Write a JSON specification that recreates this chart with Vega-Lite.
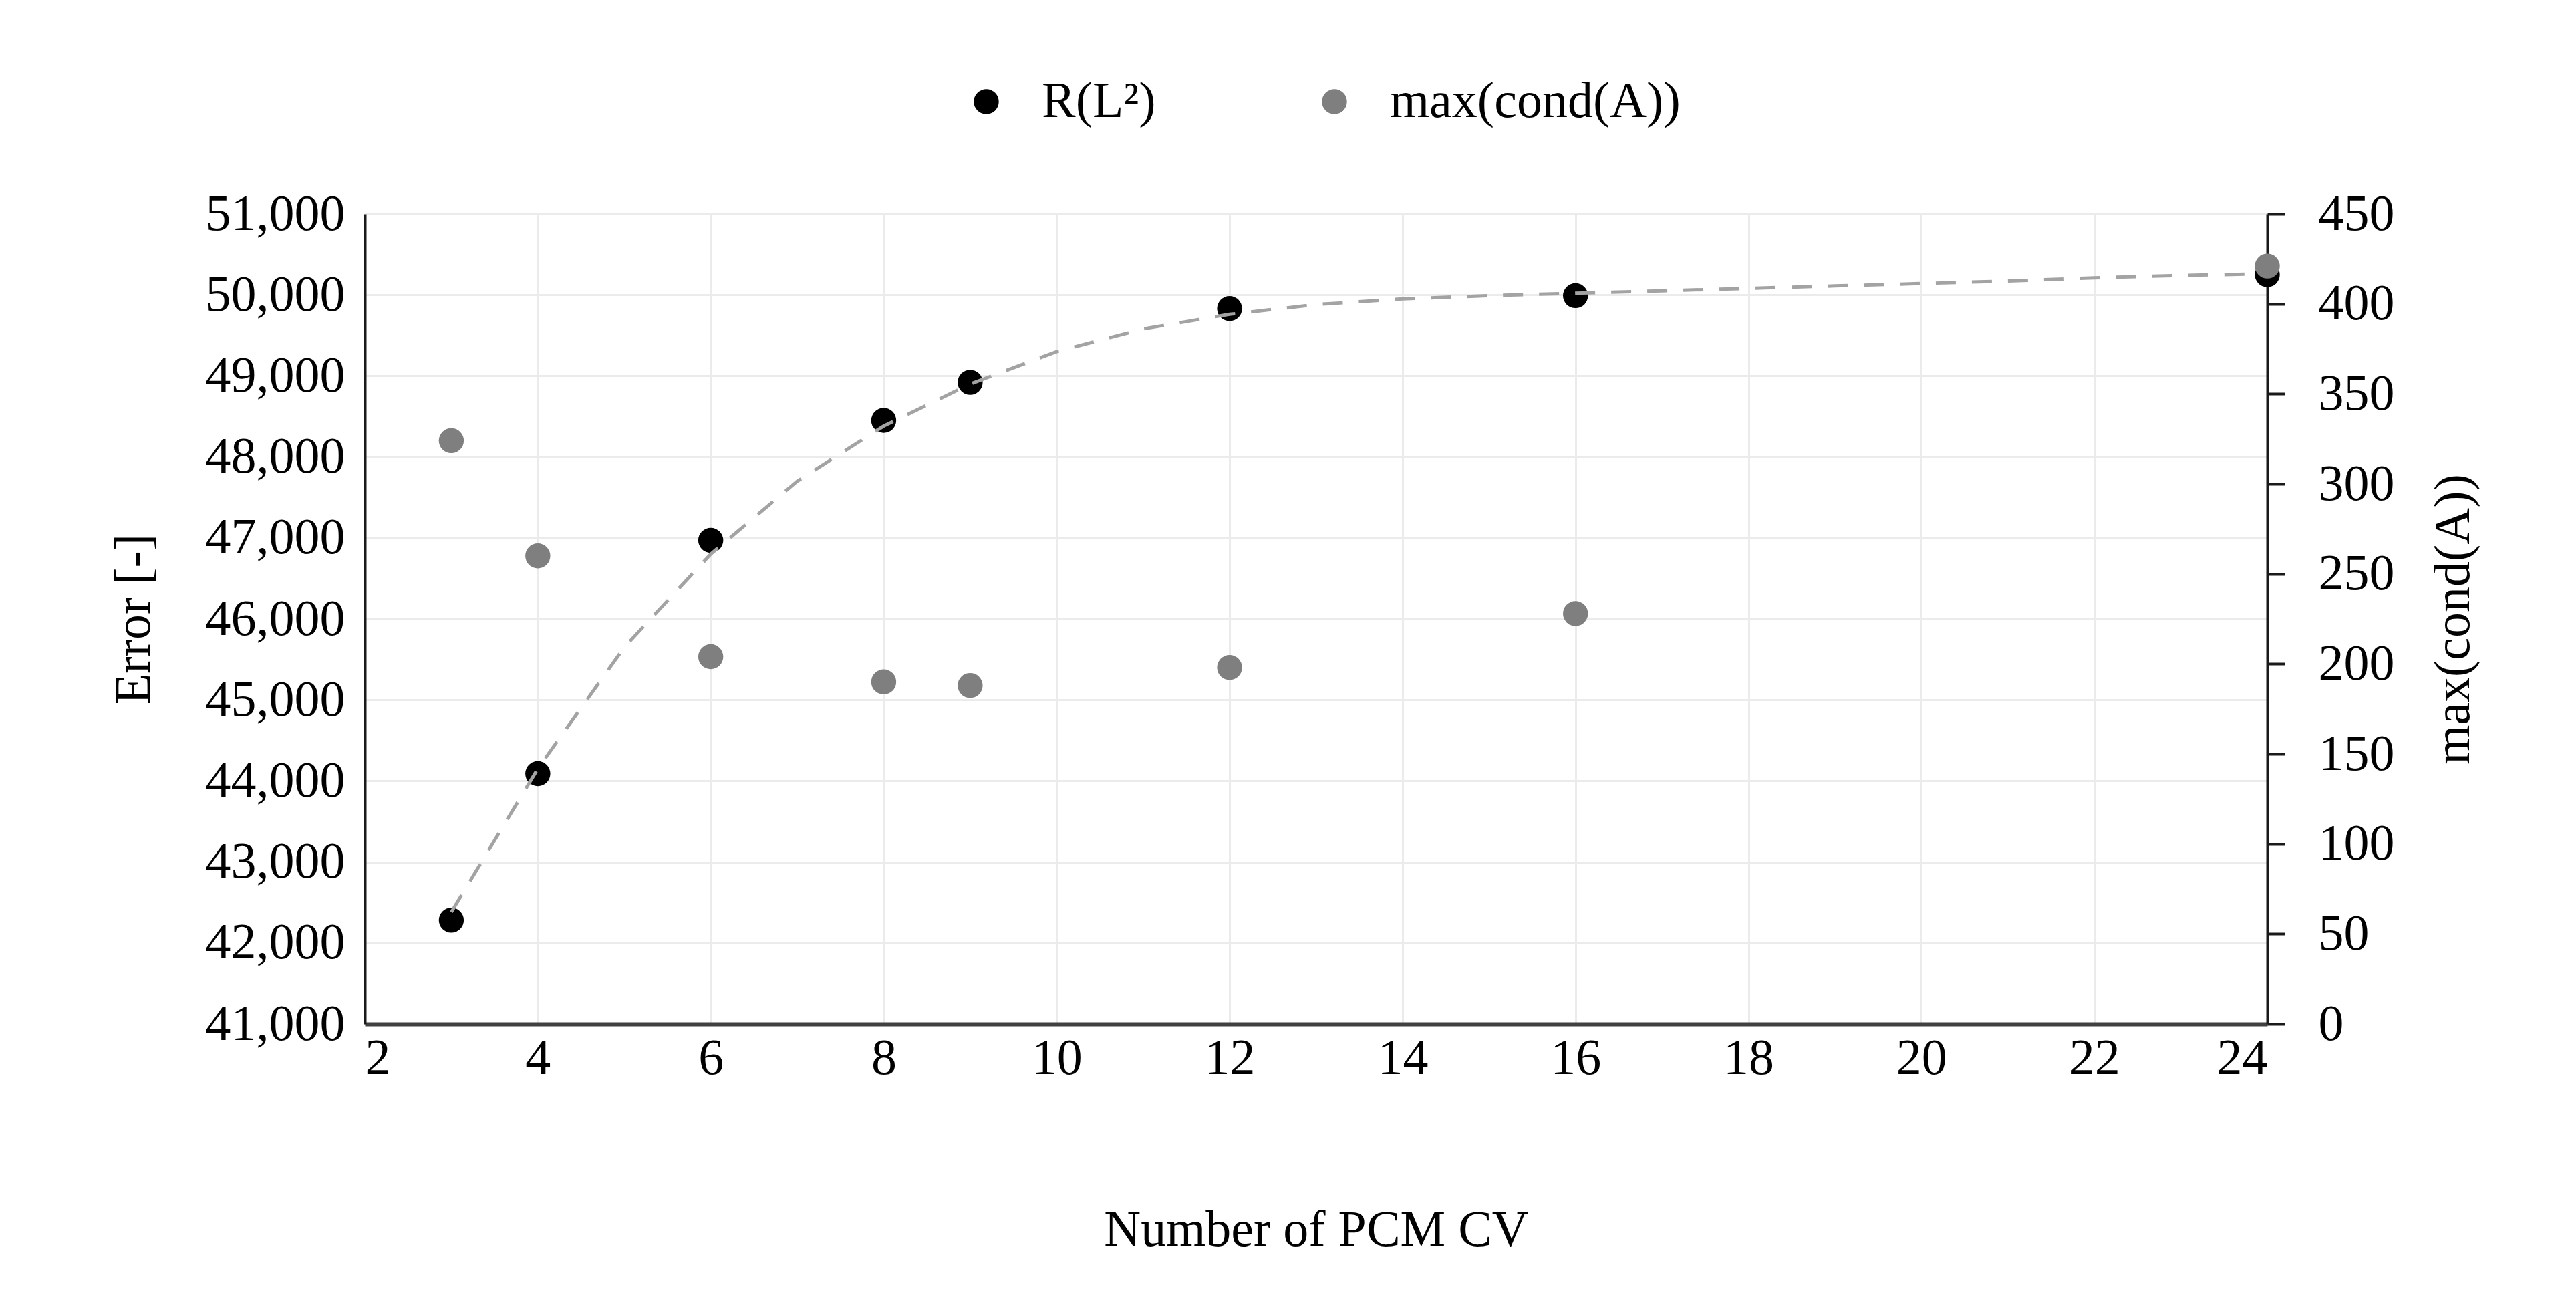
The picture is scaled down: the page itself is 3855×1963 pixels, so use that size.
{
  "$schema": "https://vega.github.io/schema/vega-lite/v6.json",
  "width": 2847,
  "height": 1212,
  "autosize": {"type": "none"},
  "padding": {"left": 546, "top": 320, "right": 462, "bottom": 431},
  "background": "white",
  "config": {
    "view": {"stroke": null},
    "font": "Liberation Serif",
    "axis": {
      "labelFont": "Liberation Serif",
      "titleFont": "Liberation Serif",
      "labelFontSize": 76,
      "titleFontSize": 76,
      "titleFontWeight": "normal",
      "labelColor": "#000000",
      "titleColor": "#000000",
      "labelLimit": 2000,
      "titleLimit": 3000,
      "gridColor": "#ebebeb",
      "gridWidth": 3
    },
    "legend": {
      "labelFont": "Liberation Serif",
      "labelFontSize": 76,
      "labelColor": "#000000",
      "labelLimit": 2000
    }
  },
  "datasets": {
    "pts": [
      {"n": 3, "r": 42280, "c": 324},
      {"n": 4, "r": 44090, "c": 260},
      {"n": 6, "r": 46970, "c": 204},
      {"n": 8, "r": 48450, "c": 190},
      {"n": 9, "r": 48920, "c": 188},
      {"n": 12, "r": 49830, "c": 198},
      {"n": 16, "r": 49990, "c": 228},
      {"n": 24, "r": 50250, "c": 421}
    ],
    "trend": [
      {"n": 3, "r": 42380},
      {"n": 4, "r": 44150},
      {"n": 5, "r": 45650},
      {"n": 6, "r": 46800},
      {"n": 7, "r": 47700},
      {"n": 8, "r": 48380},
      {"n": 9, "r": 48900},
      {"n": 10, "r": 49300},
      {"n": 11, "r": 49580},
      {"n": 12, "r": 49760},
      {"n": 13, "r": 49880},
      {"n": 14, "r": 49950},
      {"n": 15, "r": 49990},
      {"n": 16, "r": 50020},
      {"n": 17, "r": 50050},
      {"n": 18, "r": 50080},
      {"n": 19, "r": 50110},
      {"n": 20, "r": 50140},
      {"n": 21, "r": 50170},
      {"n": 22, "r": 50210},
      {"n": 23, "r": 50240},
      {"n": 24, "r": 50260}
    ]
  },
  "encoding": {
    "x": {
      "field": "n",
      "type": "quantitative",
      "scale": {"domain": [2, 24], "nice": false, "zero": false},
      "axis": {
        "title": "Number of PCM CV",
        "values": [2, 4, 6, 8, 10, 12, 14, 16, 18, 20, 22, 24],
        "format": "d",
        "grid": true,
        "ticks": false,
        "tickSize": 0,
        "labelPadding": 14,
        "titlePadding": 182,
        "domainColor": "#404040",
        "domainWidth": 6
      }
    }
  },
  "layer": [
    {
      "encoding": {
        "y": {
          "field": "r",
          "type": "quantitative",
          "scale": {"domain": [41000, 51000], "nice": false, "zero": false},
          "axis": {
            "title": "Error [-]",
            "values": [41000, 42000, 43000, 44000, 45000, 46000, 47000, 48000, 49000, 50000, 51000],
            "format": ",.0f",
            "grid": true,
            "ticks": false,
            "tickSize": 0,
            "labelPadding": 30,
            "titlePadding": 107,
            "domainColor": "#1a1a1a",
            "domainWidth": 4
          }
        }
      },
      "layer": [
        {
          "data": {"name": "pts"},
          "mark": {"type": "circle", "size": 1400, "opacity": 1},
          "encoding": {
            "color": {
              "datum": "R(L²)",
              "type": "nominal",
              "scale": {"domain": ["R(L²)", "max(cond(A))"], "range": ["#000000", "#7f7f7f"]},
              "legend": {
                "title": null,
                "orient": "none",
                "direction": "horizontal",
                "legendX": 892,
                "legendY": -206,
                "padding": 0,
                "symbolType": "circle",
                "symbolSize": 1400,
                "symbolOpacity": 1,
                "labelOffset": 45,
                "columnPadding": 229
              }
            }
          }
        },
        {
          "data": {"name": "trend"},
          "mark": {"type": "line", "strokeDash": [30, 24], "strokeWidth": 5, "color": "#a3a3a3"}
        }
      ]
    },
    {
      "data": {"name": "pts"},
      "mark": {"type": "circle", "size": 1400, "opacity": 1},
      "encoding": {
        "y": {
          "field": "c",
          "type": "quantitative",
          "scale": {"domain": [0, 450], "nice": false, "zero": true},
          "axis": {
            "orient": "right",
            "title": "max(cond(A))",
            "titleAngle": 270,
            "values": [0, 50, 100, 150, 200, 250, 300, 350, 400, 450],
            "format": "d",
            "grid": false,
            "ticks": true,
            "tickSize": 26,
            "tickWidth": 4,
            "tickColor": "#1a1a1a",
            "labelPadding": 50,
            "titlePadding": 127,
            "domainColor": "#1a1a1a",
            "domainWidth": 4
          }
        },
        "color": {"datum": "max(cond(A))", "type": "nominal"}
      }
    }
  ],
  "resolve": {"scale": {"y": "independent"}}
}
